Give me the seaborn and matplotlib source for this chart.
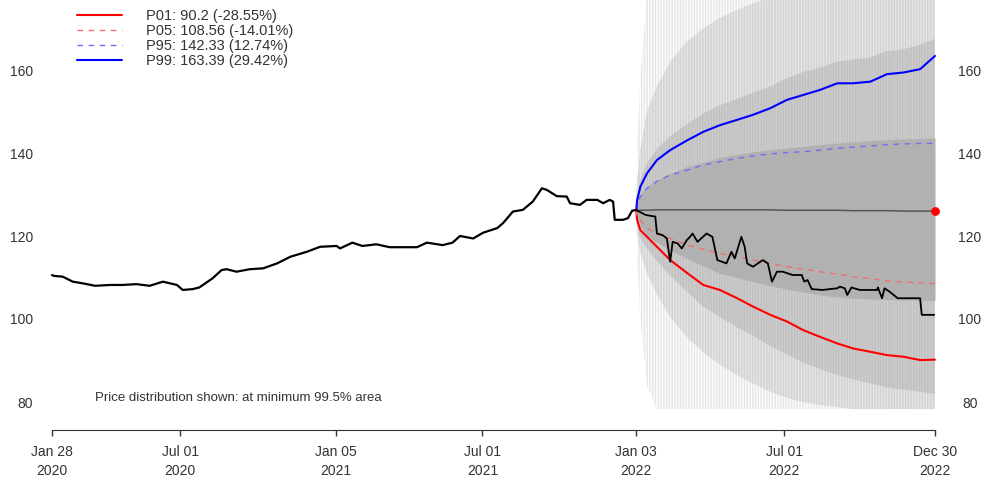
"""Price history plus simulated price distribution for the next year."""
import numpy as np
import pandas as pd
import seaborn as sea
import matplotlib.pyplot as plt
import matplotlib.dates as mdates

sea.set_style("white")
plt.rcParams["font.family"] = ["Liberation Sans", "DejaVu Sans"]
plt.rcParams["hatch.linewidth"] = 0.9

TXT = "#333333"

# ---- historical price ----
hist_dates = ["2020-01-28", "2020-01-30", "2020-02-10", "2020-02-22", "2020-03-05",
              "2020-03-20", "2020-04-07", "2020-04-22", "2020-05-09", "2020-05-25",
              "2020-06-10", "2020-06-27", "2020-07-04", "2020-07-16", "2020-07-24",
              "2020-08-09", "2020-08-20", "2020-08-26", "2020-09-07", "2020-09-23",
              "2020-10-09", "2020-10-26", "2020-11-11", "2020-12-01", "2020-12-17",
              "2021-01-06", "2021-01-10", "2021-01-25", "2021-02-06", "2021-02-23",
              "2021-03-11", "2021-03-27", "2021-04-13", "2021-04-25", "2021-05-14",
              "2021-05-26", "2021-06-04", "2021-06-20", "2021-07-02", "2021-07-19",
              "2021-07-26", "2021-08-07", "2021-08-19", "2021-08-31", "2021-09-11",
              "2021-09-17", "2021-09-29", "2021-10-11", "2021-10-15", "2021-10-27",
              "2021-11-04", "2021-11-17", "2021-11-24", "2021-12-02", "2021-12-06",
              "2021-12-08", "2021-12-18", "2021-12-24", "2021-12-29", "2022-01-03"]
hist_price = [110.6, 110.4, 110.2, 109.0, 108.6,
              108.0, 108.2, 108.2, 108.4, 108.0,
              109.0, 108.2, 107.0, 107.2, 107.6,
              109.8, 111.8, 112.0, 111.4, 112.0,
              112.2, 113.4, 115.0, 116.2, 117.4,
              117.6, 117.0, 118.4, 117.6, 118.0,
              117.3, 117.3, 117.3, 118.4, 117.8,
              118.4, 120.0, 119.4, 120.8, 121.9,
              123.1, 125.9, 126.3, 128.3, 131.5,
              131.1, 129.6, 129.5, 127.9, 127.5,
              128.7, 128.7, 127.9, 128.7, 128.3,
              123.9, 123.9, 124.3, 126.1, 126.25]

# ---- realised price during the forecast year ----
real_dates = ["2022-01-03", "2022-01-14", "2022-01-22", "2022-01-26", "2022-01-28",
              "2022-02-04", "2022-02-09", "2022-02-13", "2022-02-16", "2022-02-22",
              "2022-02-27", "2022-03-05", "2022-03-09", "2022-03-12", "2022-03-18",
              "2022-03-29", "2022-04-05", "2022-04-11", "2022-04-22", "2022-04-28",
              "2022-05-02", "2022-05-10", "2022-05-14", "2022-05-17", "2022-05-24",
              "2022-06-05", "2022-06-11", "2022-06-16", "2022-06-22", "2022-06-29",
              "2022-07-11", "2022-07-22", "2022-07-25", "2022-07-29", "2022-08-03",
              "2022-08-16", "2022-09-03", "2022-09-06", "2022-09-12", "2022-09-15",
              "2022-09-20", "2022-09-30", "2022-10-21", "2022-10-22", "2022-10-27",
              "2022-10-30", "2022-11-05", "2022-11-15", "2022-12-12", "2022-12-14",
              "2022-12-29"]
real_price = [126.25, 125.1, 124.8, 124.7, 120.6,
              120.2, 119.4, 113.8, 118.6, 118.2,
              117.0, 119.0, 119.8, 120.6, 118.6,
              120.6, 119.8, 114.2, 113.4, 116.2,
              114.6, 119.8, 117.4, 113.4, 112.6,
              114.2, 113.4, 109.0, 111.4, 111.4,
              110.6, 110.6, 109.0, 109.4, 107.2,
              107.0, 107.4, 107.8, 107.4, 105.8,
              107.6, 107.0, 107.0, 107.6, 105.0,
              107.4, 106.6, 105.0, 105.0, 101.0,
              101.0]

# ---- simulated distribution: percentiles and envelopes ----
sim_dates = ["2022-01-03", "2022-01-04", "2022-01-08", "2022-01-16", "2022-01-28",
             "2022-02-13", "2022-03-06", "2022-03-25", "2022-04-14", "2022-05-05",
             "2022-05-24", "2022-06-14", "2022-07-04", "2022-07-24", "2022-08-13",
             "2022-09-03", "2022-09-22", "2022-10-13", "2022-11-02", "2022-11-22",
             "2022-12-12", "2022-12-30"]
p99 = [126.25, 128.6, 131.9, 135.1, 138.3, 140.7, 143.1, 145.1, 146.7, 148.0, 149.2,
       150.8, 152.8, 154.0, 155.2, 156.8, 156.8, 157.2, 159.0, 159.4, 160.2, 163.39]
p95 = [126.25, 127.8, 129.5, 131.5, 133.2, 134.7, 135.9, 137.1, 137.9, 138.7, 139.3,
       139.8, 140.1, 140.3, 140.7, 141.1, 141.4, 141.7, 142.0, 142.2, 142.3, 142.33]
p50 = [126.25, 126.2, 126.2, 126.2, 126.3, 126.3, 126.3, 126.3, 126.3, 126.3, 126.3,
       126.3, 126.2, 126.2, 126.2, 126.2, 126.1, 126.1, 126.1, 126.0, 126.0, 126.0]
p05 = [126.25, 124.7, 123.8, 121.9, 120.5, 119.4, 117.8, 116.8, 115.8, 115.0, 114.2,
       113.4, 112.6, 112.0, 111.4, 110.8, 110.2, 109.7, 109.2, 108.9, 108.7, 108.56]
p01 = [126.25, 123.9, 121.4, 119.8, 117.4, 114.2, 111.0, 108.2, 107.0, 105.0, 103.0,
       101.0, 99.4, 97.3, 95.7, 94.1, 92.9, 92.1, 91.3, 90.9, 90.1, 90.2]

# envelopes of the simulated paths, from dense core to sparse fringe
core_hi = [126.25, 128.0, 130.0, 132.0, 133.5, 135.0, 136.8, 137.8, 138.9, 139.7, 140.3,
           140.8, 141.2, 141.6, 142.0, 142.4, 142.7, 143.0, 143.2, 143.4, 143.5, 143.6]
core_lo = [126.25, 124.5, 122.5, 120.0, 118.5, 116.6, 114.5, 112.8, 111.0, 110.0, 109.0,
           108.0, 107.2, 106.5, 105.8, 105.3, 105.0, 104.8, 104.7, 104.6, 104.5, 104.5]
dense_hi = [126.25, 129.5, 133.5, 137.5, 141.0, 144.0, 147.0, 149.5, 151.5, 153.0, 154.5,
            156.0, 158.0, 159.5, 160.5, 162.0, 162.5, 163.0, 164.5, 165.0, 166.0, 167.5]
dense_lo = [126.25, 123.0, 119.5, 117.0, 114.0, 110.5, 106.5, 103.0, 100.5, 98.0, 96.0,
            93.5, 91.5, 89.5, 88.0, 86.5, 85.5, 84.5, 83.5, 83.0, 82.5, 82.0]
mid_hi = [126.25, 133.0, 141.0, 150.0, 156.0, 162.0, 167.0, 170.0, 172.5, 174.5, 176.0,
          177.5, 178.0, 178.0, 178.0, 178.0, 178.0, 178.0, 178.0, 178.0, 178.0, 178.0]
mid_lo = [126.25, 121.0, 116.0, 111.0, 106.0, 100.5, 95.5, 92.0, 89.0, 86.5, 84.5,
          82.5, 81.0, 80.0, 79.3, 78.8, 78.3, 78.3, 78.3, 78.3, 78.3, 78.3]
out_hi = [126.25, 140.0, 158.0, 178.0, 178.0, 178.0, 178.0, 178.0, 178.0, 178.0, 178.0,
          178.0, 178.0, 178.0, 178.0, 178.0, 178.0, 178.0, 178.0, 178.0, 178.0, 178.0]
out_lo = [126.25, 116.0, 100.0, 84.0, 78.3, 78.3, 78.3, 78.3, 78.3, 78.3, 78.3,
          78.3, 78.3, 78.3, 78.3, 78.3, 78.3, 78.3, 78.3, 78.3, 78.3, 78.3]

legend_labels = ["P01: 90.2 (-28.55%)", "P05: 108.56 (-14.01%)",
                 "P95: 142.33 (12.74%)", "P99: 163.39 (29.42%)"]

tick_dates = ["2020-01-28", "2020-07-01", "2021-01-05", "2021-07-01",
              "2022-01-03", "2022-07-01", "2022-12-30"]
tick_labels = ["Jan 28\n2020", "Jul 01\n2020", "Jan 05\n2021", "Jul 01\n2021",
               "Jan 03\n2022", "Jul 01\n2022", "Dec 30\n2022"]
y_ticks = [80, 100, 120, 140, 160]

hist = pd.DataFrame({"date": pd.to_datetime(hist_dates), "price": hist_price})
real = pd.DataFrame({"date": pd.to_datetime(real_dates), "price": real_price})
sim = pd.DataFrame({"date": pd.to_datetime(sim_dates),
                    "p99": p99, "p95": p95, "p50": p50, "p05": p05, "p01": p01})
sx = sim["date"]

# ---- figure: pixel based layout ----
W, H = 981, 480
fig = plt.figure(figsize=(W / 100, H / 100), dpi=100)
ax = fig.add_axes([40 / W, 1 - 412 / H, 905 / W, 412 / H])

start = pd.Timestamp("2020-01-28")
PX_PER_DAY = 883 / 1067
ax.set_xlim(start - pd.Timedelta(days=12 / PX_PER_DAY),
            start + pd.Timedelta(days=893 / PX_PER_DAY))
ax.set_ylim(160 - 342 / 4.15, 160 + 70 / 4.15)

# distribution cloud, drawn as streaky bands
bands = [(out_lo, out_hi, "#e6e6e6", "white"),
         (mid_lo, mid_hi, "#d3d3d3", "#e6e6e6"),
         (dense_lo, dense_hi, "#c1c1c1", "#cdcdcd"),
         (core_lo, core_hi, "#b1b1b1", None)]
for z, (lo, hi, face, streak) in enumerate(bands):
    if streak is None:
        ax.fill_between(sx, lo, hi, facecolor=face, linewidth=0, zorder=1 + z * 0.1)
    else:
        ax.fill_between(sx, lo, hi, facecolor=face, edgecolor=streak,
                        hatch="||||||", linewidth=0, zorder=1 + z * 0.1)

# percentile lines
l01 = sea.lineplot(data=sim, x="date", y="p01", color="#ff0000", lw=1.5, ax=ax,
                   estimator=None, zorder=3).lines[-1]
l05 = sea.lineplot(data=sim, x="date", y="p05", color="#f07070", lw=1.0,
                   linestyle=(0, (4, 4)), ax=ax, estimator=None, zorder=3).lines[-1]
l95 = sea.lineplot(data=sim, x="date", y="p95", color="#6f6ff0", lw=1.0,
                   linestyle=(0, (4, 4)), ax=ax, estimator=None, zorder=3).lines[-1]
l99 = sea.lineplot(data=sim, x="date", y="p99", color="#0000ff", lw=1.5, ax=ax,
                   estimator=None, zorder=3).lines[-1]
sea.lineplot(data=sim, x="date", y="p50", color="#555555", lw=1.1, ax=ax,
             estimator=None, zorder=3)

# realised and historical price
sea.lineplot(data=real, x="date", y="price", color="black", lw=1.3, ax=ax,
             estimator=None, zorder=4)
sea.lineplot(data=hist, x="date", y="price", color="black", lw=1.6, ax=ax,
             estimator=None, zorder=4)
sea.scatterplot(x=sx.iloc[[-1]], y=[p50[-1]], color="#ff0000", s=40,
                linewidth=0, ax=ax, zorder=5, clip_on=False)

# axes styling
for side in ["top", "left", "right"]:
    ax.spines[side].set_visible(False)
ax.spines["bottom"].set_position(("outward", 13))
ax.spines["bottom"].set_bounds(mdates.date2num(pd.Timestamp(tick_dates[0])),
                               mdates.date2num(pd.Timestamp(tick_dates[-1])))
ax.spines["bottom"].set_color(TXT)
ax.set_xticks(pd.to_datetime(tick_dates))
ax.set_xticklabels(tick_labels)
for lab in ax.get_xticklabels():
    lab.set_linespacing(1.5)
ax.tick_params(axis="x", direction="out", length=4.5, width=1, color=TXT,
               pad=6, labelsize=10, labelcolor=TXT, bottom=True)
ax.set_yticks(y_ticks)
ax.tick_params(axis="y", length=0, pad=5, labelsize=10, labelcolor=TXT)
ax.set_xlabel("")
ax.set_ylabel("")

ax2 = ax.twinx()
ax2.set_ylim(ax.get_ylim())
ax2.set_yticks(y_ticks)
ax2.tick_params(axis="y", length=0, pad=18, labelsize=10, labelcolor=TXT)
for lab in ax2.get_yticklabels():
    lab.set_horizontalalignment("center")
for side in ax2.spines:
    ax2.spines[side].set_visible(False)

ax.legend([l01, l05, l95, l99], legend_labels, loc="upper left",
          bbox_to_anchor=(77 / W, 1 - 9 / H), bbox_transform=fig.transFigure,
          frameon=False, borderpad=0, borderaxespad=0, handlelength=3.1,
          handletextpad=1.6, labelspacing=0.08, fontsize=10.5, labelcolor=TXT)

fig.text(95 / W, 1 - 398 / H, "Price distribution shown: at minimum 99.5% area",
         fontsize=9.5, color=TXT, va="center", ha="left")

plt.savefig("out.png", dpi=100)
plt.close()
